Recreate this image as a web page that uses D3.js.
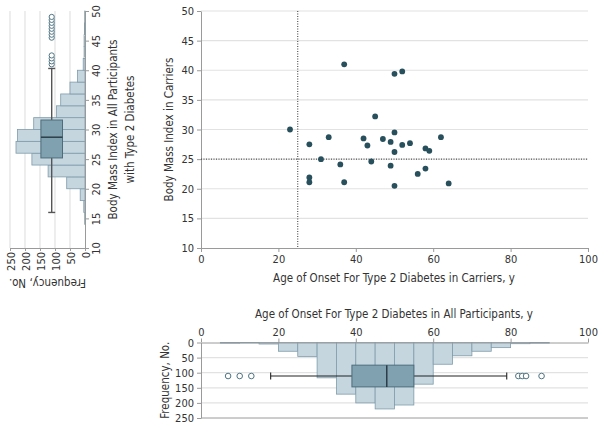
<!DOCTYPE html>
<html>
<head>
<meta charset="utf-8">
<script src="https://cdn.jsdelivr.net/npm/d3@7"></script>
<style>
  body { margin: 0; background: #fff; }
  text { font-family: "Liberation Sans Narrow", "DejaVu Sans Condensed", "Roboto", sans-serif; fill: #333; }
</style>
</head>
<body>
<svg id="chart"></svg>
<script>
//Carriers: age of onset and BMI, one entry per point
const carrierAge = [23, 28, 28, 28, 31, 33, 36, 37, 37, 42, 43, 44, 45, 47, 49, 49, 50, 50, 50, 50, 52, 52, 54, 56, 58, 58, 59, 62, 64];
const carrierBmi = [30.0, 27.5, 21.9, 21.1, 25.0, 28.7, 24.1, 41.0, 21.1, 28.5, 27.3, 24.6, 32.2, 28.4, 27.9, 23.9, 29.5, 39.4, 26.2, 20.5, 39.8, 27.4, 27.7, 22.5, 26.8, 23.4, 26.4, 28.7, 20.9];

//Age of onset histogram in all participants (5 year bins)
const ageBinStart = [0, 5, 10, 15, 20, 25, 30, 35, 40, 45, 50, 55, 60, 65, 70, 75, 80, 85, 90, 95];
const ageCounts = [0, 2, 1, 5, 29, 46, 117, 171, 200, 220, 207, 138, 72, 44, 29, 17, 4, 2, 0, 0];
//q1, median, q3 and whiskers, then outliers
const ageBox = [39, 48, 55, 18, 79];
const ageOutliers = [7, 10, 13, 82, 83, 84, 88];

//BMI histogram in all participants (2 unit bins)
const bmiBinStart = [10, 12, 14, 16, 18, 20, 22, 24, 26, 28, 30, 32, 34, 36, 38, 40, 42, 44, 46, 48];
const bmiCounts = [0, 0, 1, 4, 16, 61, 123, 177, 230, 225, 171, 95, 81, 50, 25, 6, 3, 3, 2, 1];
const bmiBox = [25.2, 28.7, 31.6, 16, 40.3];
const bmiOutliers = [41, 41.5, 42, 42.5, 45.5, 46, 46.5, 47, 47.5, 48, 48.5, 49];

//Tick values
const ageTicks = [0, 20, 40, 60, 80, 100];
const bmiTicks = [10, 15, 20, 25, 30, 35, 40, 45, 50];
const freqTicks = [0, 50, 100, 150, 200, 250];

const barFill = "#c5d6df", barStroke = "#7f9cab";
const boxFill = "#7fa1b0", boxStroke = "#4d6d7c";
const dotColor = "#284f5c";
const gridColor = "#e2e2e2", axisColor = "#9a9a9a";
const tickFont = 11, titleFont = 11.5;

const svg = d3.select("#chart").attr("width", 603).attr("height", 428);

//Shared scales: the scatter and the histograms line up on the same age and BMI axes
const xAge = d3.scaleLinear().domain([0, 100]).range([201, 588]);
const yBmi = d3.scaleLinear().domain([10, 50]).range([248, 11]);
const yFreq = d3.scaleLinear().domain([0, 250]).range([342.5, 418]);
const xFreq = d3.scaleLinear().domain([0, 250]).range([85, 10]);

function styleAxis(g) {
    g.select(".domain").attr("stroke", axisColor);
    g.selectAll(".tick line").attr("stroke", axisColor);
    g.selectAll(".tick text").attr("font-size", tickFont).attr("fill", "#333");
}

// ---------- scatter ----------
svg.append("g")
    .selectAll("line")
    .data(bmiTicks.slice(1))
    .join("line")
    .attr("x1", xAge(0)).attr("x2", xAge(100))
    .attr("y1", d => yBmi(d)).attr("y2", d => yBmi(d))
    .attr("stroke", gridColor).attr("stroke-width", 1.2);

svg.append("g")
    .attr("transform", "translate(0," + yBmi(10) + ")")
    .call(d3.axisBottom(xAge).tickValues(ageTicks).tickSize(4).tickPadding(3).tickSizeOuter(0))
    .call(styleAxis);

svg.append("g")
    .attr("transform", "translate(" + xAge(0) + ",0)")
    .call(d3.axisLeft(yBmi).tickValues(bmiTicks).tickSize(4).tickPadding(3).tickSizeOuter(0))
    .call(styleAxis);

//Reference lines at age 25 and BMI 25
svg.append("line")
    .attr("x1", xAge(25)).attr("x2", xAge(25))
    .attr("y1", yBmi(50)).attr("y2", yBmi(10))
    .attr("stroke", "#333").attr("stroke-dasharray", "1,1.5");
svg.append("line")
    .attr("x1", xAge(0)).attr("x2", xAge(100))
    .attr("y1", yBmi(25)).attr("y2", yBmi(25))
    .attr("stroke", "#333").attr("stroke-dasharray", "1,1.5");

svg.append("g")
    .selectAll("circle")
    .data(d3.range(carrierAge.length))
    .join("circle")
    .attr("cx", i => xAge(carrierAge[i]))
    .attr("cy", i => yBmi(carrierBmi[i]))
    .attr("r", 2.9)
    .attr("fill", dotColor);

svg.append("text")
    .attr("transform", "translate(173," + yBmi(30) + ") rotate(-90)")
    .attr("text-anchor", "middle").attr("font-size", titleFont)
    .text("Body Mass Index in Carriers");
svg.append("text")
    .attr("x", 394).attr("y", 282)
    .attr("text-anchor", "middle").attr("font-size", titleFont)
    .text("Age of Onset For Type 2 Diabetes in Carriers, y");

// ---------- bottom histogram (age, all participants) ----------
svg.append("g")
    .selectAll("line")
    .data(freqTicks.slice(1, 5))
    .join("line")
    .attr("x1", xAge(0)).attr("x2", xAge(100))
    .attr("y1", d => yFreq(d)).attr("y2", d => yFreq(d))
    .attr("stroke", gridColor).attr("stroke-width", 1.2);
svg.append("line")
    .attr("x1", xAge(0)).attr("x2", xAge(100))
    .attr("y1", yFreq(250)).attr("y2", yFreq(250))
    .attr("stroke", axisColor);

svg.append("g")
    .selectAll("rect")
    .data(d3.range(ageBinStart.length).filter(i => ageCounts[i] > 0))
    .join("rect")
    .attr("x", i => xAge(ageBinStart[i]))
    .attr("width", i => xAge(ageBinStart[i] + 5) - xAge(ageBinStart[i]))
    .attr("y", yFreq(0))
    .attr("height", i => yFreq(ageCounts[i]) - yFreq(0))
    .attr("fill", barFill).attr("stroke", barStroke).attr("stroke-width", 0.8);

svg.append("g")
    .attr("transform", "translate(0," + yFreq(0) + ")")
    .call(d3.axisTop(xAge).tickValues(ageTicks).tickSize(4).tickPadding(3).tickSizeOuter(0))
    .call(styleAxis);

svg.append("g")
    .attr("transform", "translate(" + xAge(0) + ",0)")
    .call(d3.axisLeft(yFreq).tickValues(freqTicks).tickSize(4).tickPadding(3).tickSizeOuter(0))
    .call(styleAxis);

//Horizontal box plot drawn over the histogram
const ageBoxTop = yFreq(75), ageBoxBottom = yFreq(147), ageBoxMid = yFreq(111);
svg.append("line")
    .attr("x1", xAge(ageBox[3])).attr("x2", xAge(ageBox[4]))
    .attr("y1", ageBoxMid).attr("y2", ageBoxMid)
    .attr("stroke", "#222").attr("stroke-width", 1.1);
svg.append("g")
    .selectAll("line")
    .data([ageBox[3], ageBox[4]])
    .join("line")
    .attr("x1", d => xAge(d)).attr("x2", d => xAge(d))
    .attr("y1", ageBoxMid - 3.5).attr("y2", ageBoxMid + 3.5)
    .attr("stroke", "#222").attr("stroke-width", 1.1);
svg.append("rect")
    .attr("x", xAge(ageBox[0])).attr("width", xAge(ageBox[2]) - xAge(ageBox[0]))
    .attr("y", ageBoxTop).attr("height", ageBoxBottom - ageBoxTop)
    .attr("fill", boxFill).attr("stroke", boxStroke).attr("stroke-width", 1);
svg.append("line")
    .attr("x1", xAge(ageBox[1])).attr("x2", xAge(ageBox[1]))
    .attr("y1", ageBoxTop).attr("y2", ageBoxBottom)
    .attr("stroke", "#2b3f48").attr("stroke-width", 1.5);
svg.append("g")
    .selectAll("circle")
    .data(ageOutliers)
    .join("circle")
    .attr("cx", d => xAge(d)).attr("cy", ageBoxMid).attr("r", 2.8)
    .attr("fill", "#fff").attr("stroke", "#4f7585").attr("stroke-width", 1);

svg.append("text")
    .attr("x", 394).attr("y", 318)
    .attr("text-anchor", "middle").attr("font-size", titleFont)
    .text("Age of Onset For Type 2 Diabetes in All Participants, y");
svg.append("text")
    .attr("transform", "translate(169," + yFreq(125) + ") rotate(-90)")
    .attr("text-anchor", "middle").attr("font-size", titleFont)
    .text("Frequency, No.");

// ---------- left histogram (BMI, all participants), drawn sideways ----------
svg.append("g")
    .selectAll("line")
    .data(freqTicks.slice(1))
    .join("line")
    .attr("x1", d => xFreq(d)).attr("x2", d => xFreq(d))
    .attr("y1", yBmi(50)).attr("y2", yBmi(10))
    .attr("stroke", gridColor).attr("stroke-width", 1.2);

svg.append("g")
    .selectAll("rect")
    .data(d3.range(bmiBinStart.length).filter(i => bmiCounts[i] > 0))
    .join("rect")
    .attr("x", i => xFreq(bmiCounts[i]))
    .attr("width", i => xFreq(0) - xFreq(bmiCounts[i]))
    .attr("y", i => yBmi(bmiBinStart[i] + 2))
    .attr("height", i => yBmi(bmiBinStart[i]) - yBmi(bmiBinStart[i] + 2))
    .attr("fill", barFill).attr("stroke", barStroke).attr("stroke-width", 0.8);

const bmiAxis = svg.append("g")
    .attr("transform", "translate(" + xFreq(0) + ",0)")
    .call(d3.axisRight(yBmi).tickValues(bmiTicks).tickSize(4).tickSizeOuter(0))
    .call(styleAxis);
bmiAxis.selectAll(".tick text")
    .attr("x", null).attr("dy", null)
    .attr("text-anchor", "middle")
    .attr("transform", "translate(15,0) rotate(-90)");

const freqAxis = svg.append("g")
    .attr("transform", "translate(0," + yBmi(10) + ")")
    .call(d3.axisBottom(xFreq).tickValues(freqTicks).tickSize(3).tickSizeOuter(0))
    .call(styleAxis);
freqAxis.selectAll(".tick text")
    .attr("y", null).attr("dy", null)
    .attr("text-anchor", "end")
    .attr("transform", "translate(4,4) rotate(-90)");

//Vertical box plot
const bmiBoxL = xFreq(147), bmiBoxR = xFreq(75), bmiBoxMid = xFreq(111);
svg.append("line")
    .attr("x1", bmiBoxMid).attr("x2", bmiBoxMid)
    .attr("y1", yBmi(bmiBox[3])).attr("y2", yBmi(bmiBox[4]))
    .attr("stroke", "#555").attr("stroke-width", 1.4);
svg.append("g")
    .selectAll("line")
    .data([bmiBox[3], bmiBox[4]])
    .join("line")
    .attr("x1", bmiBoxMid - 3.5).attr("x2", bmiBoxMid + 3.5)
    .attr("y1", d => yBmi(d)).attr("y2", d => yBmi(d))
    .attr("stroke", "#555").attr("stroke-width", 1.4);
svg.append("rect")
    .attr("x", bmiBoxL).attr("width", bmiBoxR - bmiBoxL)
    .attr("y", yBmi(bmiBox[2])).attr("height", yBmi(bmiBox[0]) - yBmi(bmiBox[2]))
    .attr("fill", boxFill).attr("stroke", boxStroke).attr("stroke-width", 1);
svg.append("line")
    .attr("x1", bmiBoxL).attr("x2", bmiBoxR)
    .attr("y1", yBmi(bmiBox[1])).attr("y2", yBmi(bmiBox[1]))
    .attr("stroke", "#2b3f48").attr("stroke-width", 1.5);
svg.append("g")
    .selectAll("circle")
    .data(bmiOutliers)
    .join("circle")
    .attr("cx", bmiBoxMid).attr("cy", d => yBmi(d)).attr("r", 2.6)
    .attr("fill", "#fff").attr("stroke", "#4f7585").attr("stroke-width", 1);

svg.append("text")
    .attr("transform", "translate(117," + yBmi(30) + ") rotate(-90)")
    .attr("text-anchor", "middle").attr("font-size", titleFont)
    .text("Body Mass Index in All Participants");
svg.append("text")
    .attr("transform", "translate(134," + yBmi(30) + ") rotate(-90)")
    .attr("text-anchor", "middle").attr("font-size", titleFont)
    .text("with Type 2 Diabetes");
svg.append("text")
    .attr("transform", "translate(" + xFreq(125) + ",279) rotate(180)")
    .attr("text-anchor", "middle").attr("font-size", titleFont)
    .text("Frequency, No.");
</script>
</body>
</html>
